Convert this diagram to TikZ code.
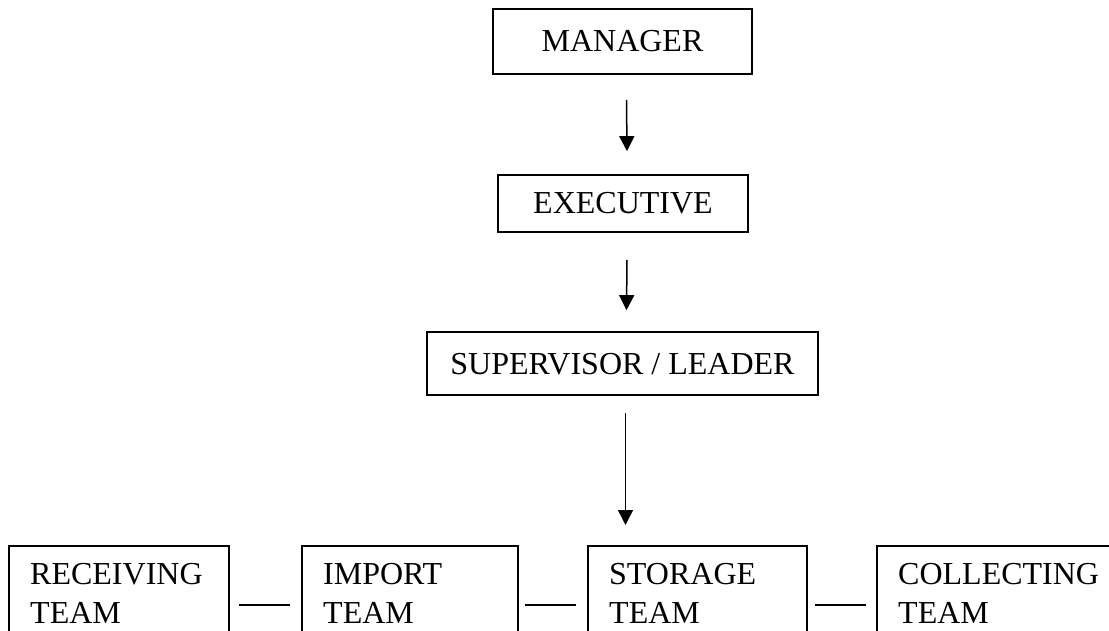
\documentclass[tikz,border=0pt]{standalone}
\usepackage{fontspec}
\setmainfont{Liberation Serif}
\usetikzlibrary{arrows.meta}
\begin{document}
\begin{tikzpicture}[x=1pt,y=-1pt,
  box/.style={draw, line width=1.7pt, rectangle, inner sep=0pt, font=\fontsize{32}{39}\selectfont, text height=21pt, text depth=0pt},
  teambox/.style={draw, line width=1.7pt, rectangle, inner sep=0pt, anchor=north west, minimum height=118pt},
  teamtext/.style={anchor=north west, align=left, inner sep=0pt, font=\fontsize{32}{39}\selectfont},
  arr/.style={line width=1.5pt, -{Triangle[length=15pt,width=15pt]}},
  link/.style={line width=1.5pt}]
\useasboundingbox (0,0) rectangle (1109,631);
\clip (0,0) rectangle (1109,631);

\node[box, minimum width=259pt, minimum height=65pt] (mgr) at (622.5,41.5) {MANAGER};
\node[box, minimum width=250pt, minimum height=57pt] (exe) at (623,203.5) {EXECUTIVE};
\node[box, minimum width=391pt, minimum height=63pt] (sup) at (622.5,363.5) {SUPERVISOR / LEADER};

\node[teambox, minimum width=220pt] (rec) at (8,545) {};
\node[teambox, minimum width=216pt] (imp) at (301,545) {};
\node[teambox, minimum width=219pt] (sto) at (587,545) {};
\node[teambox, minimum width=300pt] (col) at (876,545) {};

\node[teamtext] (rect) at ([xshift=22pt,yshift=-18pt]rec.north west) {RECEIVING\\TEAM};
\node[teamtext] (impt) at ([xshift=22pt,yshift=-18pt]imp.north west) {IMPORT\\TEAM};
\node[teamtext] (stot) at ([xshift=22pt,yshift=-18pt]sto.north west) {STORAGE\\TEAM};
\node[teamtext] (colt) at ([xshift=22pt,yshift=-18pt]col.north west) {COLLECTING\\TEAM};

\draw[link] ([xshift=9pt]rec.east) -- ([xshift=-11pt]imp.west);
\draw[link] ([xshift=6pt]imp.east) -- ([xshift=-11pt]sto.west);
\draw[link] ([xshift=7pt]sto.east) -- ([xshift=-10pt]col.west);

\draw[arr] ([xshift=4pt,yshift=-25pt]mgr.south) -- ([xshift=4pt,yshift=23pt]exe.north);
\draw[arr] ([xshift=4pt,yshift=-27pt]exe.south) -- ([xshift=4pt,yshift=21pt]sup.north);
\coordinate (a3) at ([xshift=3pt,yshift=-17pt]sup.south);
\coordinate (t3) at ([yshift=20pt]sto.north);
\draw[arr] (a3) -- (a3 |- t3);
\end{tikzpicture}
\end{document}
